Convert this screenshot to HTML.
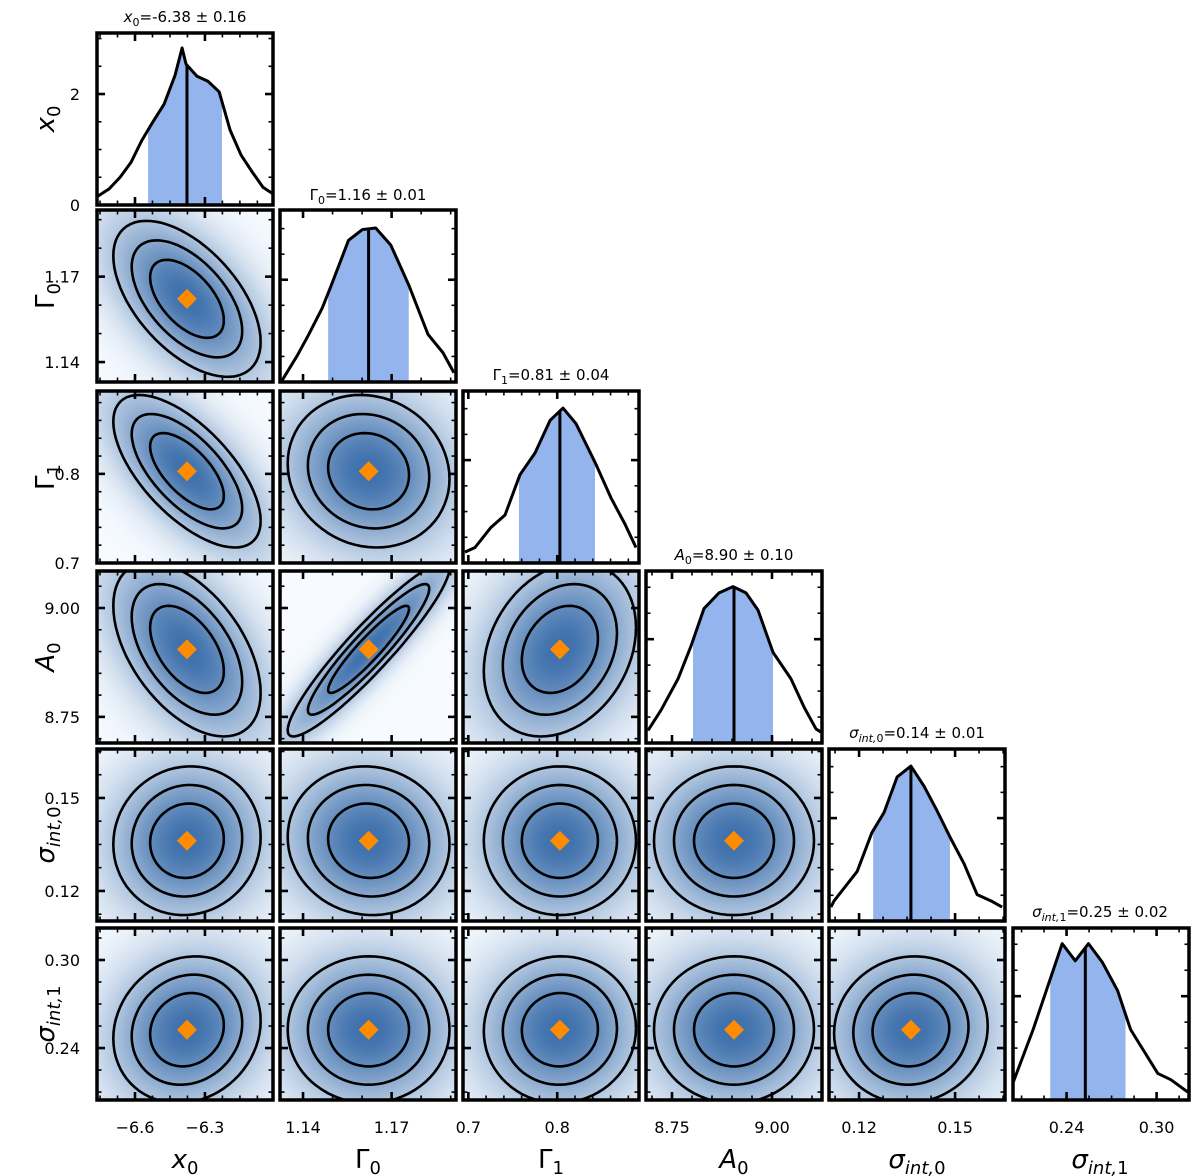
<!DOCTYPE html>
<html><head><meta charset="utf-8">
<style>
html,body{margin:0;padding:0;background:#fff;}
#wrap{position:relative;width:1200px;height:1176px;}
#bg{position:absolute;left:0;top:0;}
#fig{position:absolute;left:0;top:0;}
text{font-family:"DejaVu Sans","Liberation Sans",sans-serif;fill:#000;}
</style></head>
<body>
<div id="wrap">
<canvas id="bg" width="1200" height="1176"></canvas>
<svg id="fig" width="1200" height="1176" viewBox="0 0 1200 1176" xmlns="http://www.w3.org/2000/svg">
<g id="titles">
<text x="185" y="22" text-anchor="middle" font-size="15"><tspan font-style="italic">x</tspan><tspan dy="4" font-size="11">0</tspan><tspan dy="-4">=-6.38 ± 0.16</tspan></text>
<text x="368" y="200" text-anchor="middle" font-size="15">Γ<tspan dy="4" font-size="11">0</tspan><tspan dy="-4">=1.16 ± 0.01</tspan></text>
<text x="551" y="380" text-anchor="middle" font-size="15">Γ<tspan dy="4" font-size="11">1</tspan><tspan dy="-4">=0.81 ± 0.04</tspan></text>
<text x="734" y="560" text-anchor="middle" font-size="15"><tspan font-style="italic">A</tspan><tspan dy="4" font-size="11">0</tspan><tspan dy="-4">=8.90 ± 0.10</tspan></text>
<text x="917" y="738" text-anchor="middle" font-size="15"><tspan font-style="italic">σ</tspan><tspan dy="4" font-size="11" font-style="italic">int,</tspan><tspan font-size="11">0</tspan><tspan dy="-4">=0.14 ± 0.01</tspan></text>
<text x="1100" y="917" text-anchor="middle" font-size="15"><tspan font-style="italic">σ</tspan><tspan dy="4" font-size="11" font-style="italic">int,</tspan><tspan font-size="11">1</tspan><tspan dy="-4">=0.25 ± 0.02</tspan></text>
</g>
<g id="axtitles">
<text x="185" y="1168" text-anchor="middle" font-size="26"><tspan font-style="italic">x</tspan><tspan dy="6" font-size="18">0</tspan></text>
<text x="368" y="1168" text-anchor="middle" font-size="26">Γ<tspan dy="6" font-size="18">0</tspan></text>
<text x="551" y="1168" text-anchor="middle" font-size="26">Γ<tspan dy="6" font-size="18">1</tspan></text>
<text x="734" y="1168" text-anchor="middle" font-size="26"><tspan font-style="italic">A</tspan><tspan dy="6" font-size="18">0</tspan></text>
<text x="917" y="1168" text-anchor="middle" font-size="26"><tspan font-style="italic">σ</tspan><tspan dy="6" font-size="18" font-style="italic">int,</tspan><tspan font-size="18">0</tspan></text>
<text x="1100" y="1168" text-anchor="middle" font-size="26"><tspan font-style="italic">σ</tspan><tspan dy="6" font-size="18" font-style="italic">int,</tspan><tspan font-size="18">1</tspan></text>
<text transform="translate(54,119) rotate(-90)" text-anchor="middle" font-size="26"><tspan font-style="italic">x</tspan><tspan dy="6" font-size="18">0</tspan></text>
<text transform="translate(54,296) rotate(-90)" text-anchor="middle" font-size="26">Γ<tspan dy="6" font-size="18">0</tspan></text>
<text transform="translate(54,477) rotate(-90)" text-anchor="middle" font-size="26">Γ<tspan dy="6" font-size="18">1</tspan></text>
<text transform="translate(54,657) rotate(-90)" text-anchor="middle" font-size="26"><tspan font-style="italic">A</tspan><tspan dy="6" font-size="18">0</tspan></text>
<text transform="translate(54,835) rotate(-90)" text-anchor="middle" font-size="26"><tspan font-style="italic">σ</tspan><tspan dy="6" font-size="18" font-style="italic">int,</tspan><tspan font-size="18">0</tspan></text>
<text transform="translate(54,1014) rotate(-90)" text-anchor="middle" font-size="26"><tspan font-style="italic">σ</tspan><tspan dy="6" font-size="18" font-style="italic">int,</tspan><tspan font-size="18">1</tspan></text>
</g>
</svg>
</div>
<script>
// ---- data ----
const paramNames = ['x0','gamma0','gamma1','a0','sigma-int0','sigma-int1'];
const xRanges = [[-6.763,-6.008],[1.1322,1.1918],[0.694,0.892],[8.685,9.125],[0.1106,0.1656],[0.2043,0.3216]];
const yRanges = [[0,3.1],[1.133,1.1934],[0.7,0.893],[8.69,9.085],[0.1103,0.1658],[0.2046,0.3218]];
const majorTicks = [[-6.6,-6.3],[1.14,1.17],[0.7,0.8],[8.75,9.0],[0.12,0.15],[0.24,0.30]];
const tickLabels = [['−6.6','−6.3'],['1.14','1.17'],['0.7','0.8'],['8.75','9.00'],['0.12','0.15'],['0.24','0.30']];
const minorSteps = [0.075,0.01,0.02,0.05,0.0075,0.015];
const medians = [-6.377,1.1622,0.803,8.905,0.1362,0.2525];
const shadeLo = [-6.544,1.1485,0.757,8.8025,0.1244,0.2291];
const shadeHi = [-6.227,1.1758,0.8425,9.0025,0.1484,0.2793];
const sigmas = [0.158,0.0137,0.0428,0.1,0.012,0.025];
const diagYMax = [3.1,1.117,1.11,1.10,1.11,1.10];
const densityTicksRow1 = [0,2];
const densityLabelsRow1 = ['0','2'];
const x0HistX = [-6.759,-6.711,-6.664,-6.617,-6.570,-6.523,-6.475,-6.428,-6.398,-6.381,-6.334,-6.287,-6.239,-6.192,-6.145,-6.098,-6.051,-6.008];
const x0HistD = [0.16,0.29,0.5,0.77,1.17,1.5,1.82,2.34,2.83,2.54,2.32,2.23,2.04,1.35,0.9,0.6,0.32,0.2];
const g0HistX = [1.1329,1.1380,1.1417,1.1465,1.1492,1.1520,1.1554,1.1601,1.1646,1.1697,1.1758,1.1823,1.1874,1.1911];
const g0HistD = [0.01,0.17,0.30,0.48,0.61,0.75,0.92,0.99,1.0,0.89,0.63,0.31,0.19,0.06];
const g1HistX = [0.6962,0.7075,0.7255,0.7413,0.7581,0.7750,0.7919,0.8065,0.8211,0.8425,0.8605,0.8763,0.8886];
const g1HistD = [0.07,0.10,0.23,0.31,0.57,0.71,0.92,1.0,0.90,0.65,0.42,0.25,0.10];
const a0HistX = [8.690,8.7225,8.765,8.7975,8.83,8.8675,8.9025,8.935,8.965,9.0025,9.0475,9.08,9.11,9.1225];
const a0HistD = [0.08,0.21,0.41,0.62,0.86,0.96,1.0,0.96,0.85,0.58,0.41,0.23,0.09,0.07];
const s0HistX = [0.1112,0.1122,0.1194,0.1240,0.1278,0.1319,0.1362,0.1403,0.1444,0.1487,0.1528,0.1569,0.1612,0.1647];
const s0HistD = [0.09,0.13,0.32,0.57,0.70,0.93,1.0,0.87,0.71,0.53,0.37,0.17,0.13,0.09];
const s1HistX = [0.2043,0.2177,0.2371,0.2458,0.2546,0.2639,0.2740,0.2827,0.3008,0.3095,0.3209];
const s1HistD = [0.11,0.45,1.0,0.89,1.0,0.88,0.70,0.45,0.17,0.13,0.05];
const rhoRow1 = [-0.55];
const rhoRow2 = [-0.65,-0.1];
const rhoRow3 = [-0.5,0.93,0.25];
const rhoRow4 = [0.05,-0.05,0.0,0.0];
const rhoRow5 = [0.12,0.0,0.02,0.0,0.05];
const contourLevels = [1,1.5,2];

// ---- layout ----
const histX=[x0HistX,g0HistX,g1HistX,a0HistX,s0HistX,s1HistX];
const histD=[x0HistD,g0HistD,g1HistD,a0HistD,s0HistD,s1HistD];
const rhos=[[],rhoRow1,rhoRow2,rhoRow3,rhoRow4,rhoRow5];
const colL=[97,280,463,646,829,1013], rowT=[33,210,391,571,749,928], PW=176, PH=172;
const NS='http://www.w3.org/2000/svg';
const svg=document.getElementById('fig');
function mk(tag,attrs,parent){const e=document.createElementNS(NS,tag);for(const k in attrs)e.setAttribute(k,attrs[k]);(parent||svg).appendChild(e);return e;}
function sx(j,v){const r=xRanges[j];return colL[j]+(v-r[0])/(r[1]-r[0])*PW;}
function sy(i,v){const r=yRanges[i];return rowT[i]+PH-(v-r[0])/(r[1]-r[0])*PH;}
function syd(i,v){return rowT[i]+PH-v/diagYMax[i]*PH;}

// shading
const ctx=document.getElementById('bg').getContext('2d');
const img=ctx.createImageData(1200,1176);
for(let i=1;i<6;i++){for(let j=0;j<i;j++){
  const rho=rhos[i][j];
  const rx=xRanges[j], ry=yRanges[i];
  for(let py=rowT[i];py<rowT[i]+PH;py++){for(let px=colL[j];px<colL[j]+PW;px++){
    const vx=rx[0]+(px-colL[j]+0.5)/PW*(rx[1]-rx[0]);
    const vy=ry[0]+(rowT[i]+PH-py-0.5)/PH*(ry[1]-ry[0]);
    const a=(vx-medians[j])/(sigmas[j]*1.25), b=(vy-medians[i])/(sigmas[i]*1.25);
    const q=(a*a-2*rho*a*b+b*b)/(1-rho*rho);
    const t=Math.pow(Math.exp(-q/2),0.75);
    const k=(py*1200+px)*4;
    img.data[k]=247+(62-247)*t; img.data[k+1]=251+(112-251)*t; img.data[k+2]=255+(172-255)*t; img.data[k+3]=255;
  }}
}}
ctx.putImageData(img,0,0);

function interp(xs,ds,v){for(let k=0;k<xs.length-1;k++){if(v>=xs[k]&&v<=xs[k+1]){const f=(v-xs[k])/(xs[k+1]-xs[k]);return ds[k]+f*(ds[k+1]-ds[k]);}}return 0;}

function drawTicks(g,i,j,diag){
  const x0=colL[j],y0=rowT[i];
  const r=xRanges[j], st=minorSteps[j], m0=majorTicks[j][0];
  for(let n=-40;n<=40;n++){const v=m0+n*st; if(v<=r[0]||v>=r[1])continue;
    const isMaj=majorTicks[j].some(t=>Math.abs(t-v)<st*0.1);
    const L=isMaj?8:4.5, w=isMaj?2.6:1.6, X=sx(j,v);
    mk('line',{x1:X,y1:y0+PH,x2:X,y2:y0+PH-L,stroke:'#000','stroke-width':w},g);
    mk('line',{x1:X,y1:y0,x2:X,y2:y0+L,stroke:'#000','stroke-width':w},g);
  }
  let ys=[];
  if(diag){ if(i===0){for(let n=0;n<=6;n++)ys.push([n*0.5,n%4===0]);} else {for(let n=1;n<=6;n++)ys.push([n*0.166,n===4]);} }
  else { const ry=yRanges[i], s2=minorSteps[i], mm=majorTicks[i][0];
    for(let n=-40;n<=40;n++){const v=mm+n*s2; if(v<=ry[0]||v>=ry[1])continue; ys.push([v,majorTicks[i].some(t=>Math.abs(t-v)<s2*0.1)]);} }
  ys.forEach(([v,isMaj])=>{const Y=diag?syd(i,v):sy(i,v); if(Y<=y0+1||Y>=y0+PH-1)return;
    const L=isMaj?8:4.5,w=isMaj?2.6:1.6;
    mk('line',{x1:x0,y1:Y,x2:x0+L,y2:Y,stroke:'#000','stroke-width':w},g);
    mk('line',{x1:x0+PW,y1:Y,x2:x0+PW-L,y2:Y,stroke:'#000','stroke-width':w},g);
  });
}

const defs=mk('defs',{});
for(let i=0;i<6;i++){for(let j=0;j<=i;j++){
  const g=mk('g',{});
  
  
  const cid='clip'+i+'_'+j;
  const cp=mk('clipPath',{id:cid},defs);
  mk('rect',{x:colL[j],y:rowT[i],width:PW,height:PH},cp);
  const inner=mk('g',{'clip-path':'url(#'+cid+')'},g);
  if(i===j){
    const xs=histX[i], ds=histD[i];
    let pts=[[shadeLo[i],interp(xs,ds,shadeLo[i])]];
    xs.forEach((v,k)=>{if(v>shadeLo[i]&&v<shadeHi[i])pts.push([v,ds[k]]);});
    pts.push([shadeHi[i],interp(xs,ds,shadeHi[i])]);
    let d='M'+sx(j,shadeLo[i])+','+(rowT[i]+PH);
    pts.forEach(p=>{d+=' L'+sx(j,p[0])+','+syd(i,p[1]);});
    d+=' L'+sx(j,shadeHi[i])+','+(rowT[i]+PH)+' Z';
    const sh=mk('path',{d:d,fill:'#94b4ee',stroke:'none'},inner);
    
    
    const md=mk('line',{x1:sx(j,medians[i]),x2:sx(j,medians[i]),y1:rowT[i]+PH,y2:syd(i,interp(xs,ds,medians[i])),stroke:'#000','stroke-width':3},inner);
    
    
    const pl=mk('polyline',{points:xs.map((v,k)=>sx(j,v)+','+syd(i,ds[k])).join(' '),fill:'none',stroke:'#000','stroke-width':3,'stroke-linejoin':'round'},inner);
    
    
  } else {
    const rho=rhos[i][j];
    contourLevels.forEach((r,li)=>{
      let d='';
      for(let k=0;k<=72;k++){const t=k/72*2*Math.PI;
        const vx=medians[j]+r*sigmas[j]*Math.cos(t);
        const vy=medians[i]+r*sigmas[i]*(rho*Math.cos(t)+Math.sqrt(1-rho*rho)*Math.sin(t));
        d+=(k?' L':'M')+sx(j,vx).toFixed(1)+','+sy(i,vy).toFixed(1);}
      const c=mk('path',{d:d,fill:'none',stroke:'#000','stroke-width':2.6},inner);
      
      
    });
    const cx=sx(j,medians[j]), cy=sy(i,medians[i]);
    const mkr=mk('polygon',{points:(cx)+','+(cy-10)+' '+(cx+10)+','+cy+' '+cx+','+(cy+10)+' '+(cx-10)+','+cy,fill:'#ff8c00'},inner);
    
    
  }
  drawTicks(g,i,j,i===j);
  const fr=mk('rect',{x:colL[j],y:rowT[i],width:PW,height:PH,fill:'none',stroke:'#000','stroke-width':3.5},g);
  
  
}}

// tick labels
for(let j=0;j<6;j++){majorTicks[j].forEach((v,k)=>{
  const t=mk('text',{x:sx(j,v),y:1133,'text-anchor':'middle','font-size':16});
  t.textContent=tickLabels[j][k];
  
  
});}
densityTicksRow1.forEach((v,k)=>{
  const t=mk('text',{x:80,y:syd(0,v)+6,'text-anchor':'end','font-size':16});
  t.textContent=densityLabelsRow1[k];
  
  
});
for(let i=1;i<6;i++){majorTicks[i].forEach((v,k)=>{
  const t=mk('text',{x:80,y:sy(i,v)+6,'text-anchor':'end','font-size':16});
  t.textContent=tickLabels[i][k];
  
  
});}
</script>
</body></html>
